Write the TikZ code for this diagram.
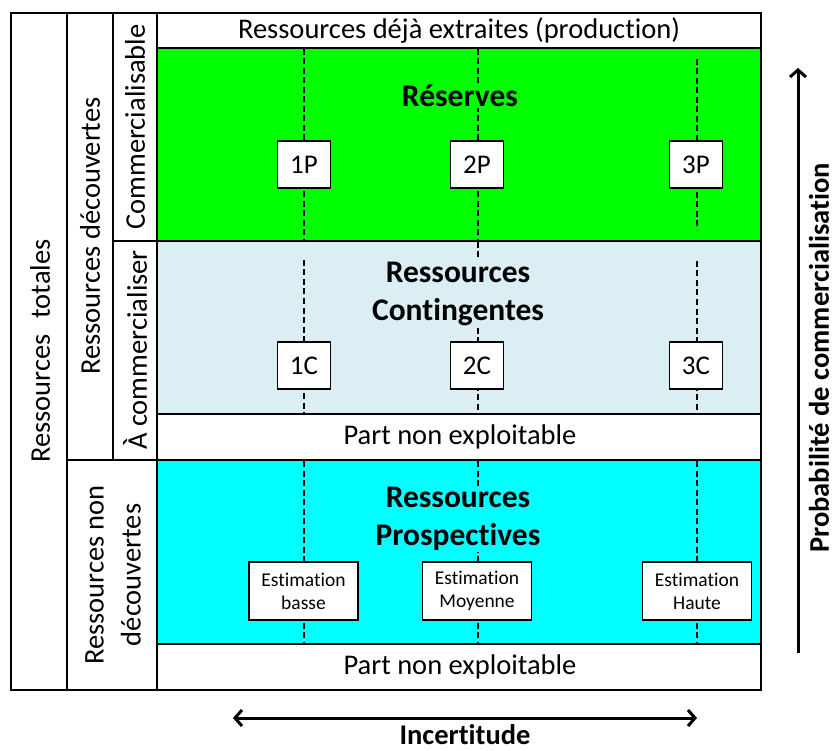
\documentclass[tikz,border=0pt]{standalone}
\usepackage{fontspec}
\setmainfont{Carlito}[Ligatures=NoCommon]
\usetikzlibrary{arrows.meta}
\definecolor{resgreen}{RGB}{0,255,0}
\definecolor{contblue}{RGB}{218,238,243}
\definecolor{prospcyan}{RGB}{0,255,255}
\begin{document}
\begin{tikzpicture}[x=1pt,y=-1pt,
  grid/.style={line width=2.7pt},
  vline/.style={line width=1.4pt, dash pattern=on 6pt off 3.5pt},
  lab/.style={font=\fontsize{28.5}{34}\selectfont, inner sep=0pt},
  bold/.style={font=\fontsize{31.5}{38}\selectfont\bfseries, align=center, inner sep=1pt},
  catbox/.style={draw, line width=1.3pt, fill=white, minimum width=53pt, minimum height=47pt, inner sep=0pt, font=\fontsize{27}{32}\selectfont},
  estbox/.style={draw, line width=1.3pt, fill=white, minimum width=109pt, minimum height=58pt, inner sep=0pt, align=center, font=\fontsize{19.5}{23}\selectfont},
  tip/.tip={Straight Barb[length=7pt,width=16pt,line width=3pt]},
  arr/.style={line width=3pt, -tip},
  axis/.style={font=\fontsize{28.5}{34}\selectfont\bfseries, inner sep=0pt}
]
\useasboundingbox (0,0) rectangle (835,751);
% fills
\fill[resgreen] (157,48) rectangle (761,241);
\fill[contblue] (157,241) rectangle (761,414);
\fill[prospcyan] (157,460) rectangle (761,644);
% dashed guide lines
\coordinate (g1t) at (304,49);  \coordinate (g1b) at (304,240);
\coordinate (g2t) at (478,49);  \coordinate (g2b) at (478,240);
\coordinate (g3t) at (697,59);  \coordinate (g3b) at (697,230);
\coordinate (c1t) at (304,260); \coordinate (c1b) at (304,413);
\coordinate (c2t) at (478,242); \coordinate (c2b) at (478,413);
\coordinate (c3t) at (697,261); \coordinate (c3b) at (697,413);
\coordinate (p1t) at (304,461); \coordinate (p1b) at (304,643);
\coordinate (p2t) at (478,461); \coordinate (p2b) at (478,643);
\coordinate (p3t) at (697,461); \coordinate (p3b) at (697,643);
\foreach \a/\b in {g1t/g1b,g2t/g2b,g3t/g3b,c1t/c1b,c2t/c2b,c3t/c3b,p1t/p1b,p2t/p2b,p3t/p3b}
  \draw[vline] (\a) -- (\b);
% grid
\draw[grid] (11,13) rectangle (761,690);
\draw[grid] (67,13) -- (67,690);
\draw[grid] (113,13) -- (113,460);
\draw[grid] (157,13) -- (157,690);
\draw[grid] (157,48) -- (761,48);
\draw[grid] (113,241) -- (761,241);
\draw[grid] (157,414) -- (761,414);
\draw[grid] (67,460) -- (761,460);
\draw[grid] (157,644) -- (761,644);
% row texts
\node[lab] (prod) at (459,31) {Ressources déjà extraites (production)};
\node[lab] (pne1) at (460,437) {Part non exploitable};
\node[lab] (pne2) at (460,667) {Part non exploitable};
% big labels
\node[bold, fill=resgreen] (res) at (460,96) {Réserves};
\node[bold, fill=contblue] (cont) at (458,294) {Ressources\\Contingentes};
\node[bold, fill=prospcyan] (prosp) at (458,519) {Ressources\\Prospectives};
% category boxes
\node[catbox] (p1) at (304,164.5) {1P};
\node[catbox] (p2) at (477,164.5) {2P};
\node[catbox] (p3) at (696,164.5) {3P};
\node[catbox] (k1) at (304,365.5) {1C};
\node[catbox] (k2) at (477,365.5) {2C};
\node[catbox] (k3) at (696,365.5) {3C};
\node[estbox] (e1) at (303.5,591) {Estimation\\basse};
\node[estbox] (e2) at (477,591) {Estimation\\Moyenne};
\node[estbox] (e3) at (697,591) {Estimation\\Haute};
% side labels
\node[lab, rotate=90] (tot) at (40,351) {Ressources\hspace{0.55em}totales};
\node[lab, rotate=90] (dec) at (90,236) {Ressources découvertes};
\node[lab, rotate=90] (com) at (135,127) {Commercialisable};
\node[lab, rotate=90] (acom) at (135,350) {À commercialiser};
\node[lab, rotate=90, align=center, font=\fontsize{28.5}{37}\selectfont] (nondec) at (113,575) {Ressources non\\découvertes};
% axes
\coordinate (pa) at (798,653); \coordinate (pb) at (798,68);
\draw[arr] (pa) -- (pb);
\node[axis, rotate=90] (prob) at (819,358) {Probabilité de commercialisation};
\coordinate (ia) at (233,718); \coordinate (ib) at (697,718);
\draw[line width=3pt, tip-tip] (ia) -- (ib);
\node[axis] (inc) at (465,735) {Incertitude};
\end{tikzpicture}
\end{document}
